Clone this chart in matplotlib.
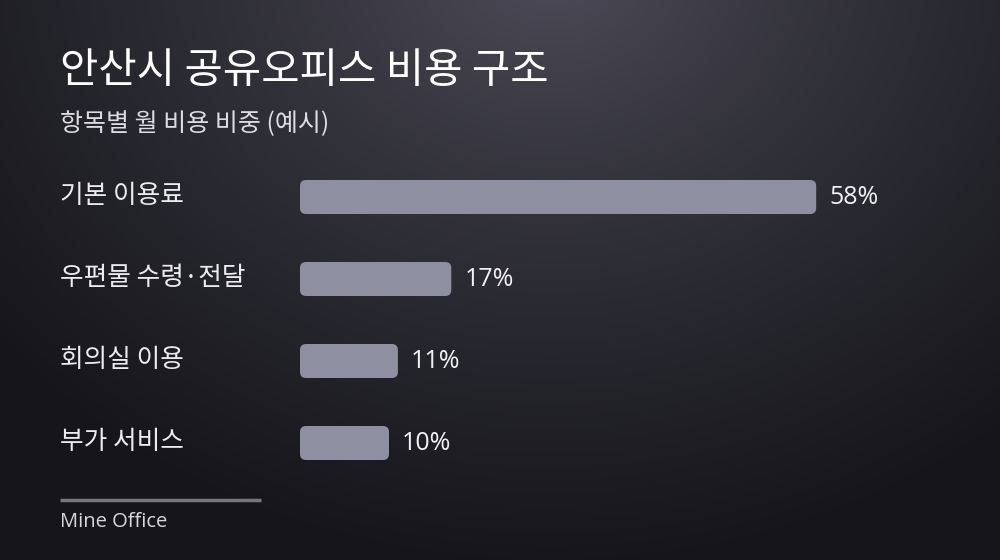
import numpy as np
import matplotlib
matplotlib.use("Agg")
import matplotlib.pyplot as plt
from matplotlib.patches import FancyBboxPatch
from matplotlib.transforms import blended_transform_factory

plt.rcParams['font.family'] = ['Noto Sans CJK KR', 'DejaVu Sans']

# data
categories = ['기본 이용료', '우편물 수령·전달', '회의실 이용', '부가 서비스']
shares = [58, 17, 11, 10]
title = '안산시 공유오피스 비용 구조'
subtitle = '항목별 월 비용 비중 (예시)'
source = 'Mine Office'

W, H = 1000, 560
fig = plt.figure(figsize=(W / 100, H / 100), dpi=100)

# radial gradient background
bg = fig.add_axes([0, 0, 1, 1], zorder=-10)
yy, xx = np.mgrid[0:H, 0:W]
d = np.sqrt(((xx - 550) / 1.0) ** 2 + ((yy + 40) / 0.85) ** 2)
t = np.clip(d / 720, 0, 1) ** 0.8
inner = np.array([0x4f, 0x4e, 0x5b]) / 255
outer = np.array([0x15, 0x15, 0x1a]) / 255
img = inner[None, None, :] * (1 - t[..., None]) + outer[None, None, :] * t[..., None]
bg.imshow(img, aspect='auto', extent=[0, W, H, 0])
bg.set_xlim(0, W)
bg.set_ylim(H, 0)
bg.axis('off')

# bar area: x from 300px, ~8.9px per percent; rows every 82px starting 197px
px_per_pct = 8.9
ax_left, ax_w = 300, 600
ax_top, ax_bot = 156, 484
ax = fig.add_axes([ax_left / W, 1 - ax_bot / H, ax_w / W, (ax_bot - ax_top) / H])
ax.set_xlim(0, ax_w / px_per_pct)
ax.set_ylim(len(categories) - 0.5, -0.5)
ax.axis('off')
ax.patch.set_alpha(0)

row_px = (ax_bot - ax_top) / len(categories)
bar_h = 34 / row_px
aspect = (1 / row_px) / (1 / px_per_pct)
r = 6 / px_per_pct
for i, (cat, v) in enumerate(zip(categories, shares)):
    box = FancyBboxPatch((r, i - bar_h / 2 + r * aspect), v - 2 * r, bar_h - 2 * r * aspect,
                         boxstyle=f"round,pad={r},rounding_size={r}",
                         mutation_aspect=aspect,
                         facecolor='#8e8fa1', edgecolor='none')
    ax.add_patch(box)
    ax.text(v + 13 / px_per_pct, i, f'{v}%', color='#f2f2f5', fontsize=18,
            va='center', ha='left', family=['Open Sans', 'DejaVu Sans'])

tr = blended_transform_factory(fig.transFigure, ax.transData)
for i, cat in enumerate(categories):
    ax.text(60 / W, i - 1 / row_px, cat, transform=tr, color='#ececf0', fontsize=18.5,
            va='center', ha='left')

fig.text(60 / W, 1 - 71 / H, title, color='white', fontsize=30, fontweight='medium',
         va='center', ha='left')
fig.text(60 / W, 1 - 124 / H, subtitle, color='#dcdce2', fontsize=18,
         va='center', ha='left')

bg.plot([60, 261], [500, 500], color='#77767f', lw=2.5, solid_capstyle='butt')
fig.text(60 / W, 1 - 522 / H, source, color='#d8d8de', fontsize=14.5,
         va='center', ha='left', family=['Open Sans', 'DejaVu Sans'])

fig.savefig('out.png', dpi=100)
